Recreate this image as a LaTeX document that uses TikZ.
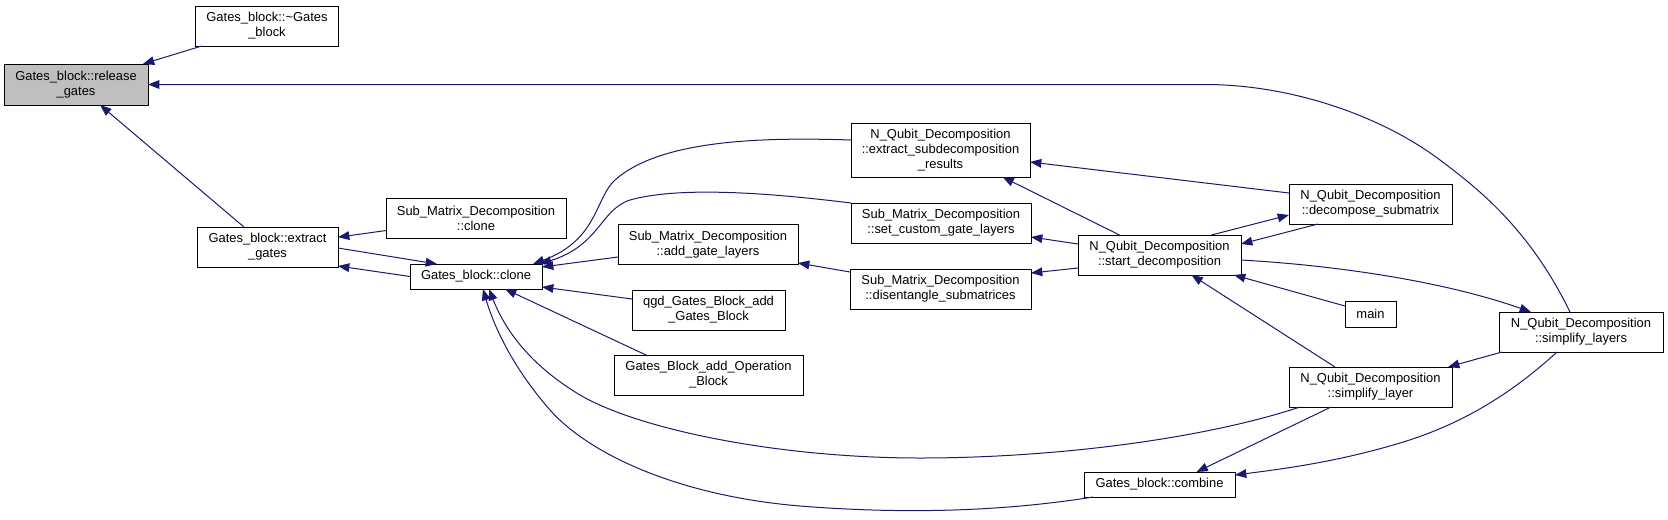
\documentclass[tikz,border=0pt]{standalone}
\usepackage{fontspec}
\setmainfont{Liberation Sans}
\usetikzlibrary{arrows.meta,calc}
\newdimen\pxunit \pxunit=0.75pt
\definecolor{navy}{HTML}{191970}
\definecolor{hl}{HTML}{BFBFBF}
\tikzset{
  fn/.style 2 args={draw=black, line width=0.75pt, inner sep=0pt, outer sep=0pt, align=center,
    minimum width=#1\pxunit, minimum height=#2\pxunit,
    font=\fontsize{9.7pt}{11.25pt}\selectfont},
  callarrow/.style={draw=navy, line width=0.75pt, -{Triangle[length=8.5pt,width=6.5pt]}}
}
\begin{document}
\begin{tikzpicture}[x=0.75pt,y=-0.75pt]
\useasboundingbox (0,0) rectangle (1668,519);
% nodes
\node[fn={143}{40}] (dtor) at (267,26) {Gates\_block::\textasciitilde Gates\\\_block};
\node[fn={144}{41}, fill=hl] (release) at (76,84.5) {Gates\_block::release\\\_gates};
\node[fn={141}{40}] (extract) at (267.5,247) {Gates\_block::extract\\\_gates};
\node[fn={180}{40}] (smclone) at (476,218) {Sub\_Matrix\_Decomposition\\::clone};
\node[fn={132}{25}] (clone) at (476,276.5) {Gates\_block::clone};
\node[fn={180}{40}] (addgl) at (708,244.5) {Sub\_Matrix\_Decomposition\\::add\_gate\_layers};
\node[fn={153}{40}] (qgd) at (708.5,310) {qgd\_Gates\_Block\_add\\\_Gates\_Block};
\node[fn={189}{40}] (addop) at (708.5,375) {Gates\_Block\_add\_Operation\\\_Block};
\node[fn={179}{54}] (extsub) at (940.5,150) {N\_Qubit\_Decomposition\\::extract\_subdecomposition\\\_results};
\node[fn={180}{40}] (setcg) at (941,223) {Sub\_Matrix\_Decomposition\\::set\_custom\_gate\_layers};
\node[fn={181}{40}] (disent) at (940.5,289) {Sub\_Matrix\_Decomposition\\::disentangle\_submatrices};
\node[fn={163}{40}] (start) at (1159.5,255) {N\_Qubit\_Decomposition\\::start\_decomposition};
\node[fn={163}{40}] (decomp) at (1370.5,204) {N\_Qubit\_Decomposition\\::decompose\_submatrix};
\node[fn={51}{26}] (main) at (1370.5,314) {main};
\node[fn={164}{40}] (simplayers) at (1581,332) {N\_Qubit\_Decomposition\\::simplify\_layers};
\node[fn={163}{40}] (simplayer) at (1370.5,387) {N\_Qubit\_Decomposition\\::simplify\_layer};
\node[fn={151}{25}] (combine) at (1159.5,484.5) {Gates\_block::combine};
% connectors
\draw[callarrow] (dtor) -- (release);
\draw[callarrow] (extract) -- (release);
\draw[callarrow] (smclone) -- (extract);
\draw[callarrow] ($(extract.east)+(0,1)$) -- ($(clone.north west)+(27,0)$);
\draw[callarrow] (clone.west) -- ($(extract.south east)+(0,-1)$);
\draw[callarrow] ($(extsub.west)+(0,-10)$) .. controls (760,137) and (660,140) .. (615,180)
  .. controls (595,198) and (598,240) .. ($(clone.north east)+(-9,0)$);
\draw[callarrow] (setcg.north west) .. controls (770,193) and (680,186) .. (630,200)
  .. controls (600,210) and (600,245) .. ($(clone.north east)+(-2,0)$);
\draw[callarrow] ($(addgl.west)+(0,12.5)$) -- ($(clone.north east)+(0,3)$);
\draw[callarrow] ($(qgd.west)+(0,-11)$) -- ($(clone.south east)+(0,-2)$);
\draw[callarrow] ($(addop.north west)+(32,0)$) -- ($(clone.south)+(29,0)$);
\draw[callarrow] ($(simplayer.south west)+(11,0)$) .. controls (1200,440) and (1050,458) .. (920,458)
  .. controls (780,458) and (640,430) .. (580,395)
  .. controls (530,365) and (505,330) .. ($(clone.south)+(13,0)$);
\draw[callarrow] ($(combine.south west)+(9,0)$) .. controls (1000,512) and (900,514) .. (800,506)
  .. controls (680,496) and (590,455) .. (550,410)
  .. controls (515,370) and (495,330) .. ($(clone.south)+(7,0)$);
\draw[callarrow] ($(start.north)+(-40,0)$) -- ($(extsub.south)+(62,0)$);
\draw[callarrow] ($(decomp.west)+(0,-11)$) -- ($(extsub.east)+(0,12)$);
\draw[callarrow] ($(start.north)+(52,0)$) -- ($(decomp.west)+(0,11)$);
\draw[callarrow] ($(decomp.south west)+(29,0)$) -- ($(start.east)+(0,-11)$);
\draw[callarrow] ($(start.west)+(0,-11)$) -- ($(setcg.east)+(0,14)$);
\draw[callarrow] ($(start.west)+(0,13)$) -- ($(disent.east)+(0,-16)$);
\draw[callarrow] ($(disent.west)+(0,-17)$) -- ($(addgl.east)+(0,18.5)$);
\draw[callarrow] ($(start.east)+(0,5)$) .. controls (1330,265) and (1440,280) .. ($(simplayers.north west)+(32,0)$);
\draw[callarrow] ($(main.west)+(0,-8)$) -- ($(start.south east)+(-7,0)$);
\draw[callarrow] ($(simplayer.north west)+(46,0)$) -- ($(start.south)+(32,0)$);
\draw[callarrow] ($(simplayers.south west)+(3,0)$) -- ($(simplayer.north east)+(-4,0)$);
\draw[callarrow] ($(simplayers.north)+(-11,0)$) .. controls (1530,230) and (1480,190) .. (1440,160)
  .. controls (1380,115) and (1290,84.5) .. (1205,84.5) -- (release.east);
\draw[callarrow] ($(simplayers.south west)+(58,0)$) .. controls (1510,395) and (1460,425) .. (1400,443)
  .. controls (1340,461) and (1290,468) .. ($(combine.east)+(0,-9.5)$);
\draw[callarrow] ($(simplayer.south west)+(42,0)$) -- ($(combine.north)+(37,0)$);
\end{tikzpicture}
\end{document}
